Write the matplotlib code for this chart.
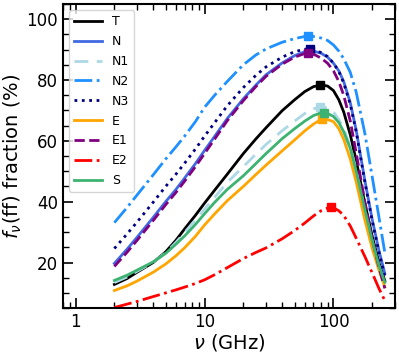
import matplotlib
matplotlib.use("Agg")
import matplotlib.pyplot as plt
from matplotlib.ticker import MultipleLocator

freq = [2, 2.5, 3, 4, 5, 6, 7, 8.5, 10, 12, 15, 20, 25, 30, 40, 50, 60, 70, 80, 90,
        100, 110, 120, 135, 150, 175, 200, 225, 250]

T = [12.8, 14.7, 16.8, 20.0, 23.5, 27.3, 31.0, 35.5, 39.5, 43.8, 49.0, 55.8, 60.6, 64.3, 69.9,
     73.5, 76.2, 77.8, 78.4, 78.0, 76.5, 73.5, 69.5, 62.0, 53.5, 39.5, 28.5, 20.0, 14.0]
N = [19.7, 24.3, 28.3, 34.8, 40.0, 44.0, 47.7, 52.5, 56.8, 61.5, 67.3, 73.8, 78.3, 81.7, 85.6,
     88.0, 89.3, 89.5, 88.8, 87.5, 85.5, 83.0, 79.5, 72.5, 63.5, 47.0, 34.0, 24.0, 16.4]
N1 = [13.4, 15.2, 17.1, 20.1, 23.2, 26.6, 29.8, 34.0, 37.5, 41.5, 46.3, 51.5, 55.6, 58.8, 63.3,
      66.5, 69.0, 70.5, 71.2, 70.8, 69.5, 67.0, 64.0, 58.0, 50.5, 37.5, 27.0, 19.0, 13.0]
N2 = [33.1, 38.0, 42.2, 48.8, 54.0, 58.0, 61.5, 66.3, 71.0, 75.0, 79.5, 85.0, 88.2, 90.2, 92.4,
      93.6, 94.3, 94.3, 93.8, 93.0, 91.5, 89.5, 87.0, 82.5, 76.0, 62.5, 48.0, 35.0, 23.3]
N3 = [24.6, 29.3, 33.3, 39.8, 45.0, 49.0, 52.6, 57.3, 61.5, 66.0, 71.5, 77.5, 81.5, 84.3, 87.5,
      89.3, 90.1, 90.0, 89.0, 87.7, 85.5, 82.8, 79.0, 72.0, 63.0, 46.5, 33.5, 23.5, 15.5]
E = [10.8, 12.3, 13.9, 16.8, 19.5, 22.2, 24.8, 28.6, 32.3, 36.0, 40.3, 45.0, 48.9, 52.0, 56.7,
     60.3, 63.3, 65.5, 67.0, 67.0, 66.3, 64.0, 60.5, 54.0, 46.5, 34.0, 24.5, 17.5, 12.0]
E1 = [18.7, 23.3, 27.3, 33.8, 39.0, 43.0, 46.7, 51.5, 55.8, 60.6, 66.6, 73.2, 77.8, 81.2, 85.2,
      87.5, 88.7, 88.5, 87.2, 85.5, 83.0, 79.5, 75.0, 66.5, 56.0, 40.0, 27.5, 18.5, 11.5]
E2 = [5.2, 6.3, 7.2, 8.8, 10.0, 11.0, 11.9, 13.1, 14.3, 16.0, 18.3, 21.3, 23.3, 24.8, 27.8,
      30.5, 33.0, 35.3, 37.0, 37.9, 38.0, 37.0, 35.5, 32.0, 28.0, 22.0, 16.5, 11.5, 7.5]
S = [14.1, 15.8, 17.5, 20.2, 23.0, 26.0, 28.7, 32.5, 36.0, 39.8, 44.0, 48.5, 52.5, 55.8, 60.7,
     64.0, 66.5, 68.3, 69.2, 69.0, 68.0, 66.0, 63.0, 57.5, 50.0, 37.5, 27.0, 19.0, 13.5]

labels = ["T", "N", "N1", "N2", "N3", "E", "E1", "E2", "S"]
series = [T, N, N1, N2, N3, E, E1, E2, S]
peak_freq = [79, 66, 78, 64, 66, 82, 63, 96, 84]
peak_val = [78.4, 89.5, 71.2, 94.5, 90.2, 67.2, 88.9, 38.1, 69.2]

colors = ["black", "royalblue", "lightblue", "dodgerblue", "navy",
          "orange", "purple", "red", "mediumseagreen"]
styles = ["-", "-", (0, (5, 3)), "-.", ":", "-", "--", "-.", "-"]

fig = plt.figure(figsize=(3.99, 3.55), dpi=100)
ax = fig.add_axes([0.158, 0.132, 0.832, 0.857])

for lab, ys, c, ls, pf, pv in zip(labels, series, colors, styles, peak_freq, peak_val):
    ax.plot(freq, ys, color=c, ls=ls, lw=2, label=lab)
    ax.plot([pf], [pv], marker="s", color=c, ms=6, ls="none")

ax.set_xscale("log")
ax.set_xlim(0.8, 300)
ax.set_ylim(5, 105)
ax.set_xticks([1, 10, 100])
ax.set_xticklabels(["1", "10", "100"])
ax.yaxis.set_major_locator(MultipleLocator(20))
ax.yaxis.set_minor_locator(MultipleLocator(5))
ax.tick_params(which="both", direction="in", top=True, right=True, labelsize=12)
ax.tick_params(which="major", length=7, width=1.2)
ax.tick_params(which="minor", length=4, width=1)
for sp in ax.spines.values():
    sp.set_linewidth(1.5)

ax.set_xlabel(r"$\nu$ (GHz)", fontsize=14, labelpad=1)
ax.set_ylabel(r"$f_\nu$(ff) fraction (%)", fontsize=14, labelpad=2)
ax.legend(loc="upper left", fontsize=9, labelspacing=0.55, handlelength=2.2)

fig.savefig("out.png", dpi=100)
